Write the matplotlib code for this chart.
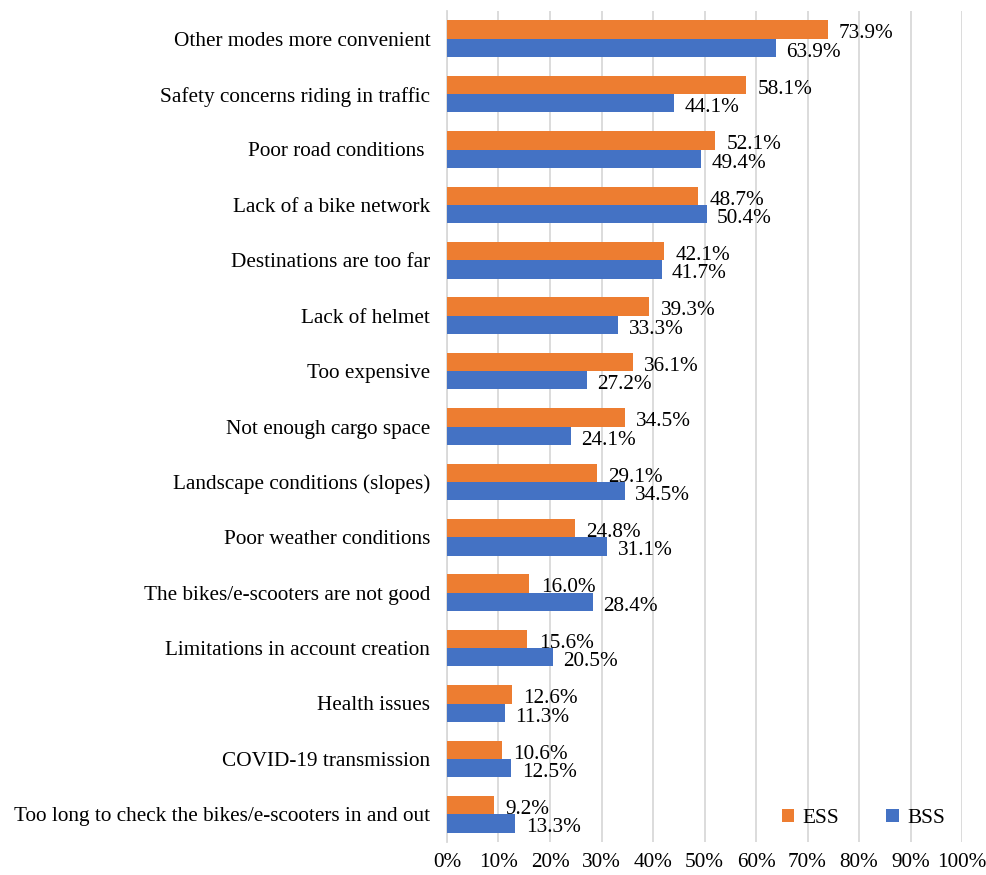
import numpy as np
import matplotlib.pyplot as plt

# === data (top to bottom) ===
reasons = [
    "Other modes more convenient",
    "Safety concerns riding in traffic",
    "Poor road conditions ",
    "Lack of a bike network",
    "Destinations are too far",
    "Lack of helmet",
    "Too expensive",
    "Not enough cargo space",
    "Landscape conditions (slopes)",
    "Poor weather conditions",
    "The bikes/e-scooters are not good",
    "Limitations in account creation",
    "Health issues",
    "COVID-19 transmission",
    "Too long to check the bikes/e-scooters in and out",
]
ess = [73.9, 58.1, 52.1, 48.7, 42.1, 39.3, 36.1, 34.5, 29.1, 24.8, 16.0, 15.6, 12.6, 10.6, 9.2]
bss = [63.9, 44.1, 49.4, 50.4, 41.7, 33.3, 27.2, 24.1, 34.5, 31.1, 28.4, 20.5, 11.3, 12.5, 13.3]

ess_color = "#ED7D31"
bss_color = "#4472C4"
fs = 15.3

plt.rcParams["font.family"] = ["Liberation Serif", "DejaVu Serif"]

fig = plt.figure(figsize=(9.87, 8.75), dpi=100)
ax = fig.add_axes([447 / 987, 1 - 842 / 875, (962 - 447) / 987, (842 - 11) / 875])

y = np.arange(len(reasons))
h = 0.33
ax.barh(y - h / 2, ess, height=h, color=ess_color, label="ESS", zorder=3)
ax.barh(y + h / 2, bss, height=h, color=bss_color, label="BSS", zorder=3)

# value labels just past the bar ends
for yi, v in zip(y, ess):
    ax.text(v + 2.2, yi - h / 2 + 0.08, f"{v:.1f}%", va="center", ha="left", fontsize=fs)
for yi, v in zip(y, bss):
    ax.text(v + 2.0, yi + h / 2 + 0.08, f"{v:.1f}%", va="center", ha="left", fontsize=fs)

ax.set_xlim(0, 100)
ax.set_ylim(len(reasons) - 0.5, -0.5)
ax.set_xticks(np.arange(0, 101, 10))
ax.set_xticklabels([f"{t}%" for t in range(0, 101, 10)], fontsize=fs)
ax.set_yticks(y)
ax.set_yticklabels(reasons, fontsize=fs)
ax.tick_params(axis="y", length=0, pad=12)
ax.tick_params(axis="x", length=0, pad=8)

ax.grid(axis="x", color="#D9D9D9", linewidth=1.3, zorder=0)
for s in ["top", "right", "bottom"]:
    ax.spines[s].set_visible(False)
ax.spines["left"].set_color("#D9D9D9")
ax.spines["left"].set_linewidth(1.3)

ax.legend(loc="lower right", bbox_to_anchor=(1.005, -0.006), ncol=2, frameon=False,
          fontsize=fs, handlelength=0.6, handleheight=0.6, columnspacing=2.2, handletextpad=0.4)

fig.savefig("out.png", dpi=100)
